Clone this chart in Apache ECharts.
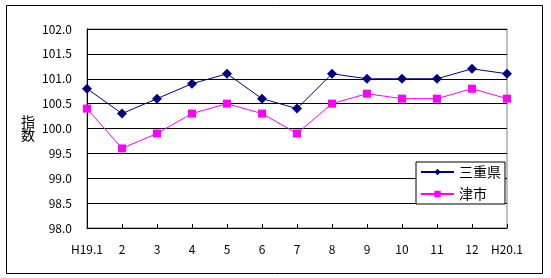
<!DOCTYPE html>
<html><head><meta charset="utf-8">
<script src="https://cdn.jsdelivr.net/npm/echarts@6/dist/echarts.min.js"></script>
<style>html,body{margin:0;padding:0;background:#fff}#c{width:551px;height:278px}</style>
</head><body><div id="c"></div>
<script>
const categories = ["H19.1","2","3","4","5","6","7","8","9","10","11","12","H20.1"];
const mie = [100.8,100.3,100.6,100.9,101.1,100.6,100.4,101.1,101.0,101.0,101.0,101.2,101.1];
const tsu = [100.4,99.6,99.9,100.3,100.5,100.3,99.9,100.5,100.7,100.6,100.6,100.8,100.6];
const seriesNames = ["三重県","津市"];
const yLabel = "指\n数";
const FONT = '"Noto Sans CJK JP", sans-serif';
const chart = echarts.init(document.getElementById('c'), null, {renderer:'canvas'});
chart.setOption({
  animation:false,
  backgroundColor:'#fff',
  textStyle:{fontFamily:FONT},
  grid:{left:87,right:44,top:29,bottom:50,show:true,borderColor:'#808080',borderWidth:1,backgroundColor:'transparent'},
  graphic:[{type:'rect',shape:{x:6.5,y:5.5,width:536,height:268},style:{fill:'none',stroke:'#000',lineWidth:1},silent:true}],
  legend:{
    orient:'vertical',left:416,top:162,
    backgroundColor:'#fff',borderColor:'#000',borderWidth:1,padding:[3,4,3,4],
    itemWidth:33,itemHeight:8,itemGap:8,
    textStyle:{fontSize:14,color:'#000',fontFamily:FONT},
    data:seriesNames
  },
  xAxis:{
    type:'category',data:categories,boundaryGap:false,
    axisLine:{lineStyle:{color:'#000',width:1}},
    axisTick:{inside:true,length:4,lineStyle:{color:'#000'}},
    axisLabel:{color:'#000',fontSize:12,margin:15,interval:0,fontFamily:FONT},
    splitLine:{show:false}
  },
  yAxis:{
    type:'value',min:98,max:102,interval:0.5,
    name:yLabel,nameLocation:'middle',nameRotate:0,nameGap:52,
    nameTextStyle:{fontSize:14,color:'#000',lineHeight:13,padding:[0,0,4,0],fontFamily:FONT},
    axisLine:{show:true,lineStyle:{color:'#000',width:1}},
    axisTick:{show:false},
    axisLabel:{color:'#000',fontSize:12,margin:15,formatter:v=>v.toFixed(1),fontFamily:FONT},
    splitLine:{lineStyle:{color:'#000',width:1}}
  },
  series:[
    {name:seriesNames[0],type:'line',data:mie,symbol:'diamond',symbolSize:10,
     itemStyle:{color:'#000080'},lineStyle:{color:'#000080',width:1}},
    {name:seriesNames[1],type:'line',data:tsu,symbol:'rect',symbolSize:8,
     itemStyle:{color:'#FF00FF'},lineStyle:{color:'#FF00FF',width:1}}
  ]
});
</script></body></html>
